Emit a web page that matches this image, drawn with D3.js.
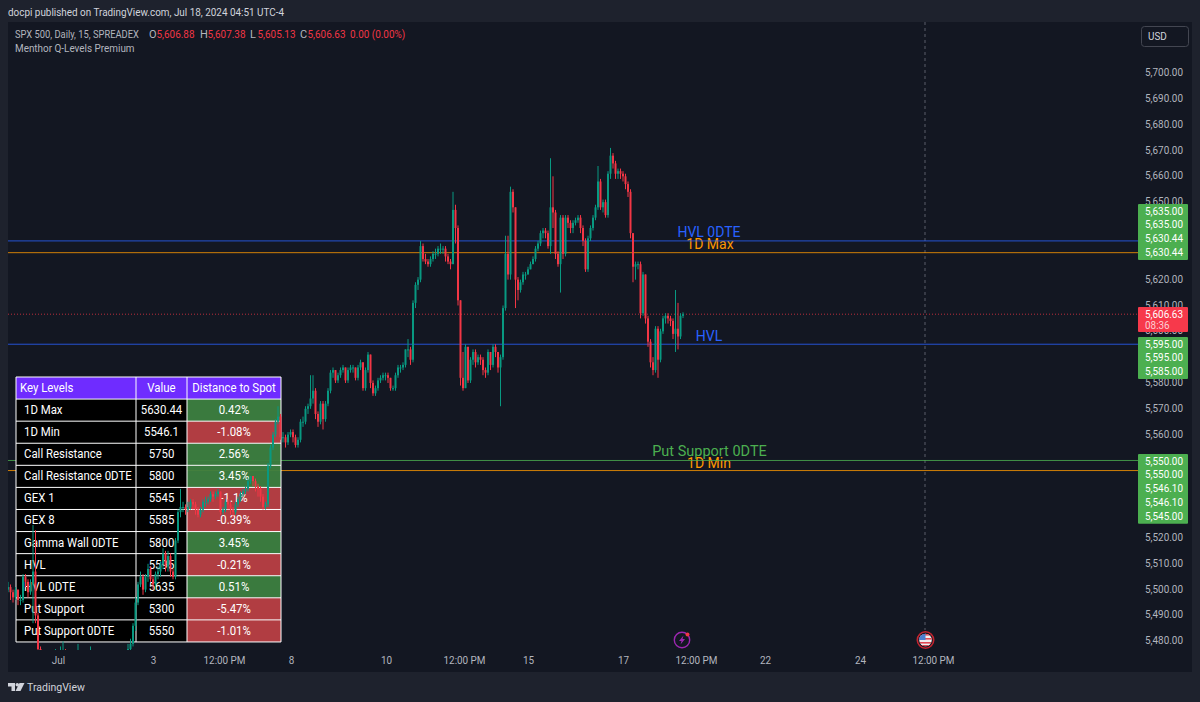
<!DOCTYPE html>
<html><head><meta charset="utf-8">
<script src="https://cdn.jsdelivr.net/npm/d3@7"></script>
<style>html,body{margin:0;padding:0;background:#1e222d;overflow:hidden}svg{display:block;font-family:Roboto,"Noto Sans",sans-serif}</style>
</head><body><svg id="c" width="1200" height="702"></svg>
<script>
const closes=[5501,5499,5497,5500,5496,5496,5505,5503,5499,5502,
5507,5490,5477,5470,5466,5463,5467,5462,5468,5472,
5466,5474,5476,5470,5465,5462,5465,5470,5474,5468,
5464,5461,5467,5473,5466,5462,5460,5463,5459,5462,
5458,5461,5464,5460,5463,5467,5470,5473,5477,5479,
5486,5495,5502,5505,5500,5505,5508,5504,5502,5506,
5507,5510,5514,5509,5513,5507,5505,5519,5530,5532,
5532,5531,5532,5534,5533,5531,5529,5531,5534,5534,
5535,5537,5536,5537,5538,5530,5531,5534,5533,5531,
5530,5533,5535,5537,5538,5539,5542,5544,5542,5540,
5539,5536,5532,5533,5548,5555,5560,5565,5567,5559,
5559,5557,5560,5561,5559,5556,5558,5565,5565,5570,
5571,5574,5577,5568,5565,5572,5566,5572,5577,5584,
5585,5581,5583,5585,5586,5581,5585,5586,5586,5582,
5586,5588,5578,5585,5591,5580,5576,5578,5581,5582,
5583,5583,5582,5578,5578,5583,5586,5586,5587,5593,
5593,5589,5611,5618,5620,5633,5628,5627,5626,5628,
5630,5630,5632,5632,5632,5629,5627,5626,5647,5640,
5612,5582,5578,5594,5581,5589,5592,5588,5590,5589,
5585,5584,5592,5587,5594,5592,5586,5590,5609,5630,
5622,5654,5648,5620,5616,5619,5622,5622,5624,5626,
5628,5632,5634,5638,5639,5638,5633,5648,5646,5630,
5626,5644,5630,5644,5642,5640,5642,5643,5644,5640,
5635,5624,5636,5640,5644,5648,5658,5648,5650,5645,
5661,5668,5665,5661,5662,5661,5660,5657,5654,5638,
5625,5626,5626,5607,5622,5605,5596,5588,5585,5601,
5589,5600,5605,5606,5605,5604,5599,5601,5598,5606,5606.63];
const highs=[5503,5502,5500,5501,5500,5498,5506,5506,5504,5504,
5525,5523,5491,5478,5472,5468,5469,5468,5470,5477,
5473,5478,5480,5477,5471,5467,5467,5472,5479,5475,
5469,5465,5469,5478,5474,5467,5464,5465,5464,5464,
5463,5463,5466,5465,5465,5468,5471,5475,5479,5481,
5487,5497,5503,5507,5506,5506,5510,5509,5505,5507,
5509,5511,5516,5515,5515,5514,5508,5520,5531,5539,
5534,5533,5534,5535,5535,5534,5532,5532,5535,5536,
5536,5538,5538,5538,5539,5538,5532,5535,5535,5534,
5532,5534,5536,5538,5539,5540,5543,5544,5544,5543,
5541,5540,5537,5534,5549,5556,5561,5566,5571,5568,
5561,5560,5561,5562,5562,5560,5559,5566,5567,5571,
5572,5583,5583,5578,5569,5573,5573,5573,5578,5585,
5586,5585,5584,5586,5587,5586,5586,5587,5587,5586,
5587,5589,5588,5586,5592,5591,5581,5579,5582,5583,
5584,5584,5584,5582,5579,5584,5587,5587,5588,5593,
5597,5594,5612,5619,5621,5635,5634,5630,5628,5629,
5631,5632,5633,5634,5633,5633,5630,5628,5654,5649,
5641,5612,5592,5595,5594,5590,5593,5593,5591,5591,
5590,5586,5593,5592,5595,5595,5592,5591,5610,5637,
5637,5656,5655,5648,5621,5620,5623,5623,5625,5627,
5629,5633,5635,5639,5640,5640,5639,5667,5660,5647,
5631,5645,5645,5645,5645,5643,5643,5644,5645,5645,
5641,5636,5637,5641,5645,5649,5664,5659,5651,5651,
5662,5671,5669,5666,5663,5663,5662,5661,5658,5655,
5638,5627,5627,5627,5623,5622,5606,5597,5590,5602,
5602,5601,5606,5607,5607,5606,5605,5616,5611,5607,5607.38];
const lows=[5499,5496,5495,5496,5494,5494,5495,5501,5497,5498,
5487,5487,5468,5464,5460,5458,5461,5458,5460,5465,
5462,5464,5470,5466,5460,5458,5460,5463,5467,5464,
5460,5457,5459,5465,5462,5458,5456,5458,5455,5457,
5454,5456,5459,5457,5458,5461,5465,5468,5471,5475,
5478,5484,5494,5501,5498,5499,5503,5503,5500,5500,
5504,5505,5508,5507,5507,5505,5504,5504,5518,5528,
5530,5529,5530,5531,5531,5529,5528,5528,5530,5532,
5533,5534,5534,5535,5536,5529,5529,5530,5531,5529,
5528,5529,5532,5534,5536,5537,5538,5541,5540,5538,
5536,5534,5531,5531,5532,5547,5554,5559,5564,5558,
5557,5555,5556,5559,5557,5555,5555,5557,5563,5564,
5568,5570,5572,5566,5563,5564,5562,5565,5571,5576,
5582,5580,5580,5582,5584,5580,5580,5584,5584,5581,
5581,5585,5577,5577,5584,5578,5575,5575,5577,5580,
5581,5581,5580,5577,5577,5577,5582,5584,5585,5586,
5590,5587,5588,5609,5616,5619,5627,5626,5625,5625,
5627,5628,5629,5630,5630,5627,5626,5624,5626,5634,
5610,5579,5577,5578,5580,5580,5587,5586,5587,5587,
5583,5582,5583,5585,5586,5590,5584,5571,5589,5608,
5620,5620,5646,5609,5612,5615,5618,5620,5622,5624,
5626,5627,5631,5633,5636,5636,5632,5630,5640,5628,
5625,5615,5628,5629,5640,5638,5638,5641,5642,5638,
5633,5623,5623,5635,5639,5643,5647,5647,5646,5644,
5644,5659,5663,5659,5659,5659,5658,5655,5652,5636,
5619,5620,5624,5605,5606,5603,5594,5586,5583,5584,
5582,5588,5599,5603,5603,5602,5597,5592,5593,5597,5605.13];
const firstOpen=5500;
const priceTicks=[5700,5690,5680,5670,5660,5650,5620,5610,5600,5580,5570,5560,5520,5510,5500,5490,5480];
const timeTickBars=[20,58,86.4,113.2,151.2,182.4,208,246,275.2,302.8,340.8,370];
const timeTickLabels=["Jul","3","12:00 PM","8","10","12:00 PM","15","17","12:00 PM","22","24","12:00 PM"];
const levelNames=["HVL 0DTE","1D Max","HVL","Put Support 0DTE","1D Min"];
const levelValues=[5635,5630.44,5595,5550,5546.1];
const levelColors=["#2962ff","#ff9800","#2962ff","#4caf50","#ff9800"];
const lastPrice=5606.63;
const labelGroups=[[5635,5635,5630.44,5630.44],[5595,5595,5585],[5550,5550,5546.1,5546.1,5545]];
const tableKeys=["1D Max","1D Min","Call Resistance","Call Resistance 0DTE","GEX 1","GEX 8","Gamma Wall 0DTE","HVL","HVL 0DTE","Put Support","Put Support 0DTE"];
const tableVals=["5630.44","5546.1","5750","5800","5545","5585","5800","5595","5635","5300","5550"];
const tableDist=[0.42,-1.08,2.56,3.45,-1.1,-0.39,3.45,-0.21,0.51,-5.47,-1.01];

const svg=d3.select("#c");
const UP="#089981",DOWN="#f23645",TXT="#b2b5be";
const paneL=8,paneR=1137,paneT=22,paneB=650,frameR=1192,frameB=672;
const x=d3.scaleLinear().domain([0,451.6]).range([paneL,paneR]);
const y=d3.scaleLinear().domain([5700,5480]).range([73,641.3]);
const fmt=d3.format(",.2f");
// condense text horizontally to the narrower face of the original
function squeeze(sel,k){sel.each(function(){const w=this.getComputedTextLength();d3.select(this).attr("textLength",w*k).attr("lengthAdjust","spacingAndGlyphs");});return sel;}
const F=11,K=0.9;

svg.append("rect").attr("width",1200).attr("height",702).attr("fill","#1e222d");
svg.append("rect").attr("x",paneL).attr("y",paneT).attr("width",frameR-paneL).attr("height",frameB-paneT).attr("fill","#131722");
svg.append("defs").append("clipPath").attr("id","pane").append("rect").attr("x",paneL).attr("y",paneT).attr("width",paneR-paneL).attr("height",paneB-paneT);

// header
squeeze(svg.append("text").attr("x",8).attr("y",16).attr("font-size",F).attr("fill","#d1d4dc").text("docpi published on TradingView.com, Jul 18, 2024 04:51 UTC-4"),K);
squeeze(svg.append("text").attr("x",15).attr("y",38).attr("font-size",F).attr("fill",TXT).text("SPX 500, Daily, 15, SPREADEX"),0.85);
const ohlcKeys=["O","H","L","C"];
const ohlcVals=["5,606.88","5,607.38","5,605.13","5,606.63"];
ohlcKeys.forEach((d,i)=>{
  const px=[149,200,250,300][i];
  svg.append("text").attr("x",px).attr("y",38).attr("font-size",F).attr("fill",TXT).text(d);
  squeeze(svg.append("text").attr("x",px+7.5).attr("y",38).attr("font-size",F).attr("fill",DOWN).text(ohlcVals[i]),K);
});
squeeze(svg.append("text").attr("x",350).attr("y",38).attr("font-size",F).attr("fill",DOWN).text("0.00 (0.00%)"),K);
squeeze(svg.append("text").attr("x",15).attr("y",51.5).attr("font-size",F).attr("fill",TXT).text("Menthor Q-Levels Premium"),K);

// vertical cursor
svg.append("line").attr("x1",x(366.8)).attr("x2",x(366.8)).attr("y1",paneT).attr("y2",630).attr("stroke","#787b86").attr("stroke-opacity",.7).attr("stroke-dasharray","3 3");

// level lines
svg.append("line").attr("x1",paneL).attr("x2",paneR).attr("y1",y(lastPrice)).attr("y2",y(lastPrice)).attr("stroke",DOWN).attr("stroke-opacity",.75).attr("stroke-dasharray","1 2");
// level text
const lvlX=[709,710,709,709.5,709];
const lvlDy=[-3.5,-3.5,-3.5,-4,-2.5];
svg.selectAll(".lvt").data(levelNames).join("text").attr("x",(d,i)=>lvlX[i]).attr("y",(d,i)=>y(levelValues[i])+lvlDy[i])
  .attr("text-anchor","middle").attr("font-size",(d,i)=>i===3?14.5:14).attr("fill",(d,i)=>levelColors[i]).text(d=>d);
svg.selectAll(".lvl").data(levelValues).join("line").attr("x1",paneL).attr("x2",paneR+1)
  .attr("y1",d=>y(d)).attr("y2",d=>y(d)).attr("stroke",(d,i)=>levelColors[i]).attr("stroke-opacity",.8);

// table
const colX=[16,136,187,281],tTop=377,rowH=22.08,TK=0.95;
const t=svg.append("g").attr("font-size",12);
t.append("rect").attr("x",colX[0]).attr("y",tTop).attr("width",colX[3]-colX[0]).attr("height",rowH).attr("fill","#6f2cff");
[["Key Levels",20,"start"],["Value",161.5,"middle"],["Distance to Spot",234,"middle"]].forEach(h=>{
  squeeze(t.append("text").attr("x",h[1]).attr("y",tTop+15).attr("text-anchor",h[2]).attr("fill","#fff").text(h[0]),TK);
});
tableKeys.forEach((k,i)=>{
  const ry=tTop+rowH*(i+1);
  t.append("rect").attr("x",colX[0]).attr("y",ry).attr("width",colX[2]-colX[0]).attr("height",rowH).attr("fill","#000");
  t.append("rect").attr("x",colX[2]).attr("y",ry).attr("width",colX[3]-colX[2]).attr("height",rowH)
    .attr("fill",tableDist[i]>=0?"#3c8040":"#b93f45").attr("fill-opacity",.95);
  squeeze(t.append("text").attr("x",24).attr("y",ry+15).attr("fill","#fff").text(k),TK);
  squeeze(t.append("text").attr("x",161.5).attr("y",ry+15).attr("text-anchor","middle").attr("fill","#fff").text(tableVals[i]),TK);
  squeeze(t.append("text").attr("x",234).attr("y",ry+15).attr("text-anchor","middle").attr("fill","#fff").text(tableDist[i].toFixed(Math.abs(tableDist[i])===1.1?1:2)+"%"),TK);
});
for(let i=0;i<=12;i++) t.append("line").attr("x1",colX[0]).attr("x2",colX[3]).attr("y1",tTop+rowH*i).attr("y2",tTop+rowH*i).attr("stroke","#fff");
colX.forEach(c=>t.append("line").attr("x1",c).attr("x2",c).attr("y1",tTop).attr("y2",tTop+rowH*12).attr("stroke","#fff"));

// candles
const bars=closes.map((c,i)=>({i,o:i?closes[i-1]:firstOpen,c,h:highs[i],l:lows[i]}));
const cg=svg.append("g").attr("clip-path","url(#pane)");
cg.selectAll(".w").data(bars).join("line").attr("x1",d=>x(d.i)).attr("x2",d=>x(d.i)).attr("y1",d=>y(d.h)).attr("y2",d=>y(d.l))
  .attr("stroke",d=>d.c>=d.o?UP:DOWN);
cg.selectAll(".b").data(bars).join("rect").attr("x",d=>x(d.i)-1).attr("width",2)
  .attr("y",d=>y(Math.max(d.o,d.c))).attr("height",d=>Math.max(1,y(Math.min(d.o,d.c))-y(Math.max(d.o,d.c))))
  .attr("fill",d=>d.c>=d.o?UP:DOWN);

// price axis
const ya=svg.append("g").attr("transform",`translate(${paneR+8},-1)`).call(d3.axisRight(y).tickValues(priceTicks).tickFormat(fmt).tickSize(0).tickPadding(0));
ya.select(".domain").remove();
ya.selectAll("text").attr("font-size",F).attr("font-family","Roboto").attr("fill",TXT);
squeeze(ya.selectAll("text"),K);

// time axis
const xa=svg.append("g").attr("transform",`translate(0,656)`).call(d3.axisBottom(x).tickValues(timeTickBars).tickFormat((d,i)=>timeTickLabels[i]).tickSize(0).tickPadding(0));
xa.select(".domain").remove();
xa.selectAll("text").attr("font-size",F).attr("font-family","Roboto").attr("fill",TXT);
squeeze(xa.selectAll("text"),K);

// price labels
const boxX=1138,boxW=50,lh=13.85;
[204,337,454].forEach((boxTop,g)=>{
  const vals=labelGroups[g];
  svg.append("rect").attr("x",boxX).attr("y",boxTop).attr("width",boxW).attr("height",vals.length*lh+0.5).attr("rx",1).attr("fill","#4caf50");
  vals.forEach((v,i)=>squeeze(svg.append("text").attr("x",boxX+7).attr("y",boxTop+lh*i+10.6).attr("font-size",F).attr("fill","#fff").text(fmt(v)),K));
});
svg.append("rect").attr("x",boxX).attr("y",307).attr("width",boxW).attr("height",25).attr("rx",1).attr("fill","#f7394b");
squeeze(svg.append("text").attr("x",boxX+7).attr("y",317.5).attr("font-size",F).attr("fill","#fff").text(fmt(lastPrice)),K);
squeeze(svg.append("text").attr("x",boxX+7).attr("y",329).attr("font-size",F).attr("fill","#fcd0d5").text("08:36"),K);

// USD
svg.append("rect").attr("x",1141.5).attr("y",26.5).attr("width",47).attr("height",20).attr("rx",3).attr("fill","#131722").attr("stroke","#434651");
squeeze(svg.append("text").attr("x",1148).attr("y",40).attr("font-size",F).attr("fill","#d1d4dc").text("USD"),K);

// event icons
const ev=svg.append("g").attr("transform","translate(682,640)");
ev.append("circle").attr("r",7.7).attr("fill","none").attr("stroke","#9c27b0").attr("stroke-width",1.4);
ev.append("path").attr("d","M1.5,-4.5 L-3,1 L-0.5,1 L-1.5,4.5 L3,-1 L0.5,-1 Z").attr("fill","#9c27b0");
ev.append("circle").attr("cx",5.5).attr("cy",-5.5).attr("r",2).attr("fill","#f23645");
const fl=svg.append("g").attr("transform","translate(925.5,640)");
fl.append("circle").attr("r",8.2).attr("fill","#131722").attr("stroke","#c4242f").attr("stroke-width",1.6);
fl.append("clipPath").attr("id","fc").append("circle").attr("r",6.3);
const fg=fl.append("g").attr("clip-path","url(#fc)");
fg.append("rect").attr("x",-7).attr("y",-7).attr("width",14).attr("height",14).attr("fill","#f0f0f0");
[-6,-2,2,5].forEach(d=>fg.append("rect").attr("x",-7).attr("y",d).attr("width",14).attr("height",1.6).attr("fill","#e04b55"));
fg.append("rect").attr("x",-7).attr("y",-7).attr("width",7).attr("height",7).attr("fill","#4a7fd0");

// footer
const lg=svg.append("g").attr("transform","translate(8,683)").attr("fill","#d1d4dc");
lg.append("path").attr("d","M0,0 H7 V8 H3.5 V3.5 H0 Z");
lg.append("circle").attr("cx",9.3).attr("cy",1.8).attr("r",1.8);
lg.append("path").attr("d","M11.5,0 H16.5 L12.5,8 H7.5 Z");
squeeze(svg.append("text").attr("x",27).attr("y",691).attr("font-size",11.3).attr("fill","#d1d4dc").text("TradingView"),0.93);
</script></body></html>
